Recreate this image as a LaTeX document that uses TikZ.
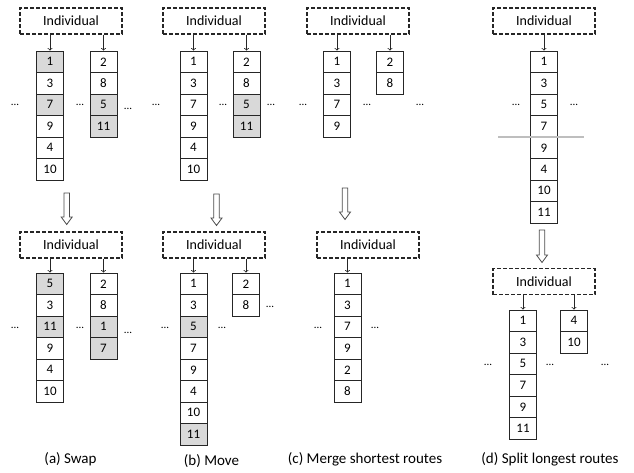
\documentclass[tikz,border=0pt]{standalone}
\usepackage{fontspec}
\setmainfont{Carlito}
\usepackage{tikz}
\definecolor{cellgray}{RGB}{217,217,217}
\definecolor{cutgray}{RGB}{190,190,190}

\begin{document}
\begin{tikzpicture}[x=1pt,y=-1pt,
    cell/.style={shape=rectangle,draw=black!85,line width=0.9pt,minimum width=27pt,minimum height=21.5pt,inner sep=0pt,font=\fontsize{13}{15}\selectfont},
    gcell/.style={cell,fill=cellgray},
    indiv/.style={shape=rectangle,draw=black!85,line width=1.1pt,dash pattern=on 4pt off 2pt,minimum width=102pt,minimum height=26pt,inner sep=0pt,font=\fontsize{14}{16}\selectfont},
    dots/.style={inner sep=0pt,font=\fontsize{11}{13}\selectfont},
    bigarrow/.style={draw=black!70,fill=white,line width=0.8pt,line join=miter},
    caption/.style={inner sep=0pt,font=\fontsize{15}{17}\selectfont}]
      \useasboundingbox (0,0) rectangle (634,472);

      % (a) swap
      \node[indiv](aT) at (71,21) {Individual};
      \node[gcell](a11) at (50,61.8) {1};
      \node[cell](a12) at (50,83.3) {3};
      \node[gcell](a13) at (50,104.8) {7};
      \node[cell](a14) at (50,126.3) {9};
      \node[cell](a15) at (50,147.8) {4};
      \node[cell](a16) at (50,169.3) {10};
      \node[cell](a21) at (103.5,61.8) {2};
      \node[cell](a22) at (103.5,83.3) {8};
      \node[gcell](a23) at (103.5,104.8) {5};
      \node[gcell](a24) at (103.5,126.3) {11};
      \node[dots](aD1) at (15,105) {...};
      \node[dots](aD2) at (80,105) {...};
      \node[dots](aD3) at (128,109) {...};
      \coordinate (aA) at (66.7,193);
      \draw[bigarrow] (aA) ++(-2.75,0) -- ++(0,24) -- ++(-2.75,0) -- ++(5.5,7.5) -- ++(5.5,-7.5) -- ++(-2.75,0) -- ++(0,-24) -- cycle;
      \node[indiv](aB) at (71,245) {Individual};
      \node[gcell](a31) at (50,283.8) {5};
      \node[cell](a32) at (50,305.3) {3};
      \node[gcell](a33) at (50,326.8) {11};
      \node[cell](a34) at (50,348.3) {9};
      \node[cell](a35) at (50,369.8) {4};
      \node[cell](a36) at (50,391.3) {10};
      \node[cell](a41) at (103.5,283.8) {2};
      \node[cell](a42) at (103.5,305.3) {8};
      \node[gcell](a43) at (103.5,326.8) {1};
      \node[gcell](a44) at (103.5,348.3) {7};
      \node[dots](aD4) at (15,328) {...};
      \node[dots](aD5) at (80,328) {...};
      \node[dots](aD6) at (128,333) {...};
      \node[caption](aC) at (70.5,459) {(a) Swap};

      % (b) move
      \node[indiv](bT) at (214,21) {Individual};
      \node[cell](b11) at (193.5,61.8) {1};
      \node[cell](b12) at (193.5,83.3) {3};
      \node[cell](b13) at (193.5,104.8) {7};
      \node[cell](b14) at (193.5,126.3) {9};
      \node[cell](b15) at (193.5,147.8) {4};
      \node[cell](b16) at (193.5,169.3) {10};
      \node[cell](b21) at (246.5,61.8) {2};
      \node[cell](b22) at (246.5,83.3) {8};
      \node[gcell](b23) at (246.5,104.8) {5};
      \node[gcell](b24) at (246.5,126.3) {11};
      \node[dots](bD1) at (156,105) {...};
      \node[dots](bD2) at (223,105) {...};
      \node[dots](bD3) at (271,105) {...};
      \coordinate (bA) at (216.5,194);
      \draw[bigarrow] (bA) ++(-2.75,0) -- ++(0,24) -- ++(-2.75,0) -- ++(5.5,7.5) -- ++(5.5,-7.5) -- ++(-2.75,0) -- ++(0,-24) -- cycle;
      \node[indiv](bB) at (214,245) {Individual};
      \node[cell](b31) at (193.5,283.8) {1};
      \node[cell](b32) at (193.5,305.3) {3};
      \node[gcell](b33) at (193.5,326.8) {5};
      \node[cell](b34) at (193.5,348.3) {7};
      \node[cell](b35) at (193.5,369.8) {9};
      \node[cell](b36) at (193.5,391.3) {4};
      \node[cell](b37) at (193.5,412.8) {10};
      \node[gcell](b38) at (193.5,434.3) {11};
      \node[cell](b41) at (246,283.8) {2};
      \node[cell](b42) at (246,305.3) {8};
      \node[dots](bD4) at (165,328) {...};
      \node[dots](bD5) at (222,328) {...};
      \node[dots](bD6) at (270,307) {...};
      \node[caption](bC) at (211.5,461) {(b) Move};

      % (c) merge
      \node[indiv](cT) at (358,21) {Individual};
      \node[cell](c11) at (337,61.8) {1};
      \node[cell](c12) at (337,83.3) {3};
      \node[cell](c13) at (337,104.8) {7};
      \node[cell](c14) at (337,126.3) {9};
      \node[cell](c21) at (390,61.8) {2};
      \node[cell](c22) at (390,83.3) {8};
      \node[dots](cD1) at (303,105) {...};
      \node[dots](cD2) at (367,105) {...};
      \node[dots](cD3) at (420,105) {...};
      \coordinate (cA) at (345,188);
      \draw[bigarrow] (cA) ++(-2.75,0) -- ++(0,24) -- ++(-2.75,0) -- ++(5.5,7.5) -- ++(5.5,-7.5) -- ++(-2.75,0) -- ++(0,-24) -- cycle;
      \node[indiv](cB) at (368,245) {Individual};
      \node[cell](c31) at (347.5,283.8) {1};
      \node[cell](c32) at (347.5,305.3) {3};
      \node[cell](c33) at (347.5,326.8) {7};
      \node[cell](c34) at (347.5,348.3) {9};
      \node[cell](c35) at (347.5,369.8) {2};
      \node[cell](c36) at (347.5,391.3) {8};
      \node[dots](cD4) at (318,328) {...};
      \node[dots](cD5) at (375,328) {...};
      \node[caption](cC) at (365,459) {(c) Merge shortest routes};

      % (d) split
      \node[indiv](dT) at (544,21) {Individual};
      \node[cell](d11) at (544,61.8) {1};
      \node[cell](d12) at (544,83.3) {3};
      \node[cell](d13) at (544,104.8) {5};
      \node[cell](d14) at (544,126.3) {7};
      \node[cell](d15) at (544,147.8) {9};
      \node[cell](d16) at (544,169.3) {4};
      \node[cell](d17) at (544,190.8) {10};
      \node[cell](d18) at (544,212.3) {11};
      \coordinate (dL) at (498,137);
      \coordinate (dR) at (584,137);
      \draw[cutgray,line width=1.3pt] (dL) -- (dR);
      \node[dots](dD1) at (516,105) {...};
      \node[dots](dD2) at (574,105) {...};
      \coordinate (dA) at (542,230);
      \draw[bigarrow] (dA) ++(-2.75,0) -- ++(0,25) -- ++(-2.75,0) -- ++(5.5,7.5) -- ++(5.5,-7.5) -- ++(-2.75,0) -- ++(0,-25) -- cycle;
      \node[indiv](dB) at (544,281.5) {Individual};
      \node[cell](d31) at (523,320.8) {1};
      \node[cell](d32) at (523,342.3) {3};
      \node[cell](d33) at (523,363.8) {5};
      \node[cell](d34) at (523,385.3) {7};
      \node[cell](d35) at (523,406.8) {9};
      \node[cell](d36) at (523,428.3) {11};
      \node[cell](d41) at (574,320.8) {4};
      \node[cell](d42) at (574,342.3) {10};
      \node[dots](dD3) at (488,365) {...};
      \node[dots](dD4) at (550,365) {...};
      \node[dots](dD5) at (605,365) {...};
      \node[caption](dC) at (550,459) {(d) Split longest routes};

      \path [->,black!85,line width=0.8pt] (aT.south -| a11) edge (a11);
      \path [->,black!85,line width=0.8pt] (aT.south -| a21) edge (a21);
      \path [->,black!85,line width=0.8pt] (aB.south -| a31) edge (a31);
      \path [->,black!85,line width=0.8pt] (aB.south -| a41) edge (a41);
      \path [->,black!85,line width=0.8pt] (bT.south -| b11) edge (b11);
      \path [->,black!85,line width=0.8pt] (bT.south -| b21) edge (b21);
      \path [->,black!85,line width=0.8pt] (bB.south -| b31) edge (b31);
      \path [->,black!85,line width=0.8pt] (bB.south -| b41) edge (b41);
      \path [->,black!85,line width=0.8pt] (cT.south -| c11) edge (c11);
      \path [->,black!85,line width=0.8pt] (cT.south -| c21) edge (c21);
      \path [->,black!85,line width=0.8pt] (cB.south -| c31) edge (c31);
      \path [->,black!85,line width=0.8pt] (dT.south -| d11) edge (d11);
      \path [->,black!85,line width=0.8pt] (dB.south -| d31) edge (d31);
      \path [->,black!85,line width=0.8pt] (dB.south -| d41) edge (d41);
    \end{tikzpicture}
\end{document}
